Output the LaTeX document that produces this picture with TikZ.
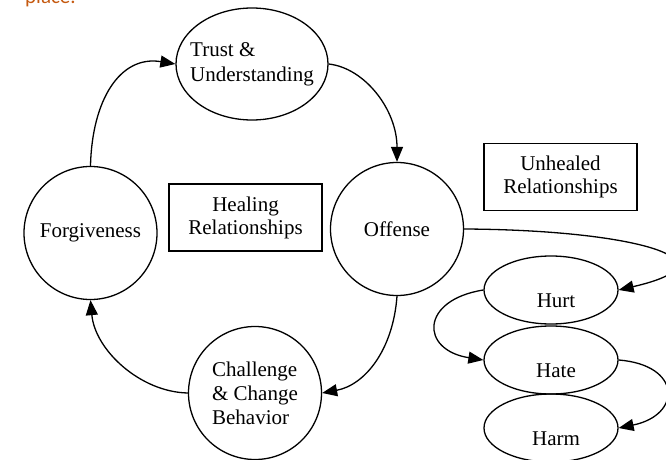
\documentclass[tikz,border=0pt]{standalone}
\usepackage{fontspec}
\setmainfont{Liberation Serif}
\newfontfamily\carlito{Carlito}
\usetikzlibrary{shapes.geometric,arrows.meta}
\definecolor{headorange}{RGB}{197,90,17}
\tikzset{
  shp/.style={draw, line width=1.3pt, inner sep=2pt, font=\fontsize{21}{24}\selectfont},
  circ/.style={shp, circle, minimum size=133pt},
  ell/.style={shp, ellipse, minimum width=134pt, minimum height=68pt},
  lowtext/.style={text height=34pt, text depth=0pt},
  box/.style={shp, rectangle, minimum width=153pt, minimum height=67pt, align=center, font=\fontsize{21}{23}\selectfont},
  conn/.style={line width=1.3pt, -{Triangle[length=15pt,width=12pt]}},
}
\begin{document}
\begin{tikzpicture}[x=1pt,y=-1pt]
\useasboundingbox (0,0) rectangle (666,460);
\node[font=\carlito\fontsize{21}{24}\selectfont, text=headorange, anchor=base west, inner sep=0pt] (head) at (25,4) {place.};

\node[shp, ellipse, minimum width=152pt, minimum height=112pt] (trust) at (252,64)
  {\makebox[0pt]{\fontsize{21}{25}\selectfont\begin{tabular}{@{}l@{}}Trust \&\\Understanding\end{tabular}}};
\node[circ] (forg) at (90.5,233) {Forgiveness};
\node[circ] (off) at (397,229) {Offense};
\node[circ, align=left] (chal) at (255,393) {Challenge\\\& Change\\Behavior};
\node[box] (heal) at (245.5,217.5) {Healing\\Relationships};
\node[box] (unheal) at (560.5,177) {Unhealed\\Relationships};
\node[ell, lowtext] (hurt) at (551,290) {\hspace*{10pt}Hurt};
\node[ell, lowtext] (hate) at (551,360) {\hspace*{10pt}Hate};
\node[ell, lowtext] (harm) at (551,428) {\hspace*{10pt}Harm};

\draw[conn] (forg.north) .. controls (92,100) and (120,55) .. (trust.west);
\draw[conn] (trust.east) .. controls (365,68) and (397,110) .. (off.north);
\draw[conn] (off.south) .. controls (393,350) and (365,385) .. (chal.east);
\draw[conn] (chal.west) .. controls (140,392) and (95,350) .. (forg.south);
\draw[conn] (off.east) .. controls (640,230) and (740,262) .. (hurt.east);
\draw[conn] (hurt.west) .. controls (420,300) and (420,350) .. (hate.west);
\draw[conn] (hate.east) .. controls (682,365) and (682,415) .. (harm.east);
\end{tikzpicture}
\end{document}
